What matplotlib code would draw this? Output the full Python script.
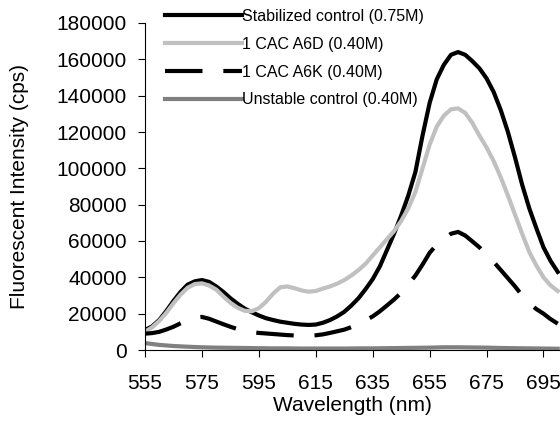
import numpy as np
import matplotlib
matplotlib.use('Agg')
import matplotlib.pyplot as plt

plt.rcParams['font.family'] = ['Liberation Sans', 'DejaVu Sans']

wavelength = [555, 557.5, 560, 562.5, 565, 567.5, 570, 572.5, 575, 577.5,
              580, 582.5, 585, 587.5, 590, 592.5, 595, 597.5, 600, 602.5,
              605, 607.5, 610, 612.5, 615, 617.5, 620, 622.5, 625, 627.5,
              630, 632.5, 635, 637.5, 640, 642.5, 645, 647.5, 650, 652.5,
              655, 657.5, 660, 662.5, 665, 667.5, 670, 672.5, 675, 677.5,
              680, 682.5, 685, 687.5, 690, 692.5, 695, 697.5, 700]

stabilized = [11000, 13000, 16500, 21500, 27000, 32000, 36000, 37800, 38500, 37500,
              35000, 32000, 28500, 25500, 22800, 20800, 19000, 17500, 16500, 15600,
              15000, 14400, 14000, 13800, 14000, 15000, 16500, 18500, 21000, 24500,
              28500, 33500, 39000, 46000, 55000, 64000, 74000, 85000, 98000, 118000,
              136000, 149000, 157000, 162500, 164000, 162500, 159000, 155000, 149500, 142000,
              132000, 120000, 106000, 91000, 78000, 67000, 56500, 49000, 43000]

a6d = [10000, 12500, 16000, 20500, 25700, 30500, 34300, 36300, 36700, 35500,
       33300, 29500, 26000, 23300, 21600, 21300, 23000, 26500, 31000, 34500,
       35000, 34000, 32800, 32100, 32500, 33800, 35000, 36500, 38500, 41000,
       44000, 47500, 52000, 56500, 61000, 65500, 71000, 78000, 87000, 100000,
       113000, 123000, 129000, 132500, 133000, 130500, 125000, 118000, 111500, 104000,
       95000, 85000, 74500, 64000, 54000, 46500, 40000, 35500, 32500]

a6k = [9000, 9300, 10000, 11300, 12800, 14700, 16500, 17800, 18200, 17200,
       15700, 14200, 12800, 11500, 10500, 9800, 9400, 9100, 8800, 8500,
       8200, 8000, 7900, 7900, 8100, 8600, 9400, 10300, 11200, 12600,
       14200, 16300, 18500, 21300, 24500, 27800, 31500, 36000, 41000, 47000,
       53500, 58000, 61000, 64000, 65000, 63000, 59800, 56500, 52500, 48500,
       44000, 39500, 35000, 30000, 25800, 22500, 20000, 17000, 14500]

unstable = [3800, 3300, 2800, 2500, 2200, 2000, 1800, 1650, 1500, 1400,
            1300, 1250, 1200, 1150, 1100, 1050, 1000, 950, 900, 900,
            900, 850, 800, 800, 800, 800, 800, 800, 800, 850,
            900, 900, 900, 950, 1000, 1050, 1100, 1150, 1200, 1250,
            1300, 1400, 1500, 1500, 1500, 1450, 1400, 1350, 1300, 1200,
            1100, 1050, 1000, 950, 900, 850, 800, 750, 700]

labels = ['Stabilized control (0.75M)', '1 CAC A6D (0.40M)',
          '1 CAC A6K (0.40M)', 'Unstable control (0.40M)']
xticks = [555, 575, 595, 615, 635, 655, 675, 695]
yticks = np.arange(0, 180001, 20000)

fig = plt.figure(figsize=(5.6, 4.23), dpi=100)
ax = fig.add_axes([145/560, 73/423, 1 - 145/560, 327/423])

lw = 3
ax.plot(wavelength, stabilized, color='black', lw=lw, label=labels[0],
        solid_joinstyle='round')
ax.plot(wavelength, a6d, color='#c0c0c0', lw=lw, label=labels[1],
        solid_joinstyle='round')
ax.plot(wavelength, a6k, color='black', lw=lw, dashes=(9, 5), label=labels[2])
ax.plot(wavelength, unstable, color='#808080', lw=lw, label=labels[3])

ax.set_xlim(555, 700.8)
ax.set_ylim(0, 180000)
ax.set_xticks(xticks)
ax.set_yticks(yticks)
ax.set_yticklabels([str(v) for v in yticks])
ax.tick_params(labelsize=15, direction='out', length=5, width=0.8, pad=8)
ax.tick_params(axis='x', pad=12)
for s in ['top', 'right']:
    ax.spines[s].set_visible(False)
for s in ['left', 'bottom']:
    ax.spines[s].set_linewidth(0.8)

ax.set_xlabel('Wavelength (nm)', fontsize=15)
ax.set_ylabel('Fluorescent Intensity (cps)', fontsize=15)
ax.xaxis.set_label_coords(0.5, -0.14)
ax.yaxis.set_label_coords(-0.28, 0.5)

ax.legend(loc='upper left', bbox_to_anchor=(165/560, 1 - 9/423),
          bbox_transform=fig.transFigure, frameon=False, fontsize=11.5,
          borderpad=0, borderaxespad=0, handlelength=4.8,
          handletextpad=0.05, labelspacing=0.8)

fig.savefig('out.png', dpi=100)
